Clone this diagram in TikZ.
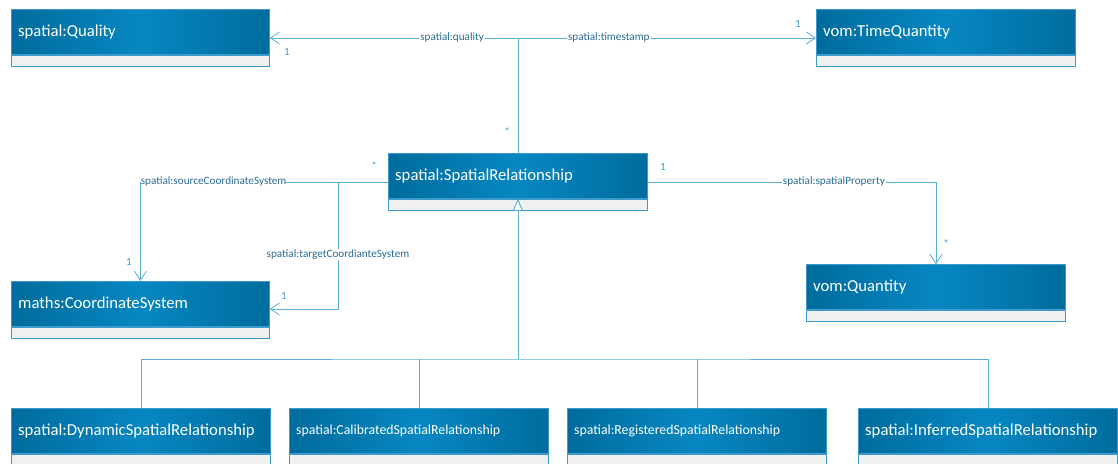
\documentclass[tikz,border=0pt]{standalone}
\usepackage{fontspec}
\setmainfont{Carlito}
\usetikzlibrary{arrows.meta,calc}

\definecolor{hdredge}{HTML}{006C9D}
\definecolor{hdrmid}{HTML}{0787C2}
\definecolor{boxedge}{HTML}{3C9BCB}
\definecolor{cmpfill}{HTML}{F0F0F0}
\definecolor{wire}{HTML}{5AAED6}
\definecolor{lbltext}{HTML}{2A6C94}
\definecolor{multtext}{HTML}{3A9AD0}

\tikzset{
  x=1pt, y=-1pt,
  hdr/.style={draw=boxedge, line width=0.8pt, left color=hdredge, right color=hdredge,
    middle color=hdrmid, anchor=north west,
    minimum height=45pt, inner sep=0pt},
  hdrtext/.style={text=white, anchor=west, inner sep=0pt, font=\fontsize{16.7}{18}\selectfont},
  hdrsmall/.style={hdrtext, font=\fontsize{13.8}{16}\selectfont},
  cmp/.style={draw=boxedge, line width=0.8pt, fill=cmpfill, anchor=north, minimum height=11.5pt, inner sep=0pt},
  assoc/.style={draw=wire, line width=0.8pt},
  navarrow/.style={assoc, -{Straight Barb[length=9pt,width=12pt,line width=0.8pt]}},
  genarrow/.style={assoc, -{Triangle[open,length=12pt,width=10pt,line width=0.9pt,fill=white]}},
  lbl/.style={fill=white, text=lbltext, inner sep=1pt, font=\fontsize{11.2}{13}\selectfont},
  mult/.style={text=multtext, inner sep=0pt, font=\fontsize{11}{13}\selectfont},
}

% class box: name, left x, top y, width, label, label style
\newcommand{\umlclass}[6]{%
  \node[hdr, minimum width=#4pt] (#1) at (#2,#3) {};
  \node[#6] (#1t) at ($(#1.west)+(7,0)$) {#5};
  \node[cmp, minimum width=#4pt] (#1c) at (#1.south) {};
}

\begin{document}
\begin{tikzpicture}
\useasboundingbox (0,0) rectangle (1118,463);
\clip (0,0) rectangle (1118,463);

% classes
\umlclass{q}{11}{9}{258}{spatial:Quality}{hdrtext}
\umlclass{tq}{816}{9}{259}{vom:TimeQuantity}{hdrtext}
\umlclass{sr}{388}{153}{259}{spatial:SpatialRelationship}{hdrtext}
\umlclass{cs}{11}{281}{258}{maths:CoordinateSystem}{hdrtext}
\umlclass{vq}{806}{264}{259}{vom:Quantity}{hdrtext}
\umlclass{dsr}{11}{408}{259}{spatial:DynamicSpatialRelationship}{hdrtext}
\umlclass{csr}{289}{408}{259}{spatial:CalibratedSpatialRelationship}{hdrsmall}
\umlclass{rsr}{567}{408}{259}{spatial:RegisteredSpatialRelationship}{hdrsmall}
\umlclass{isr}{858}{408}{259}{spatial:InferredSpatialRelationship}{hdrtext}

% quality / timestamp
\coordinate (jq) at (sr.north |- 0,38);
\draw[assoc] (sr.north) -- (jq);
\draw[navarrow] (jq) -- node[lbl, pos=0.265] {spatial:quality} (q.east |- jq);
\draw[navarrow] (jq) -- node[lbl, pos=0.305] {spatial:timestamp} (tq.west |- jq);
\node[mult] (mq) at (287,52) {1};
\node[mult] (mtq) at (798,24) {1};
\node[mult] (msr) at (507,132) {*};

% coordinate systems
\coordinate (js) at (sr.west |- 0,182);
\coordinate (jt) at (338,182);
\draw[navarrow] (js) -| node[lbl, pos=0.5, anchor=west, inner xsep=0pt] {spatial:sourceCoordinateSystem} (cs.north);
\draw[navarrow] (jt) -- node[lbl, pos=0.57] {spatial:targetCoordianteSystem} (jt |- 0,309) -- (cs.east |- 0,309);
\node[mult] (msrc) at (374,166) {*};
\node[mult] (mcs1) at (129,262) {1};
\node[mult] (mcs2) at (284,296) {1};

% spatial property
\draw[navarrow] (sr.east |- 0,182) -| node[lbl, pos=0.323] {spatial:spatialProperty} (vq.north);
\node[mult] (msp) at (663,167) {1};
\node[mult] (mvq) at (946,244) {*};

% generalisation
\coordinate (bus) at (sr.south |- 0,359);
\draw[genarrow] (bus) -- (sr.south);
\draw[assoc] (dsr.north) |- (bus) -| (isr.north);
\draw[assoc] (csr.north) -- (csr.north |- bus);
\draw[assoc] (rsr.north) -- (rsr.north |- bus);
\end{tikzpicture}
\end{document}
